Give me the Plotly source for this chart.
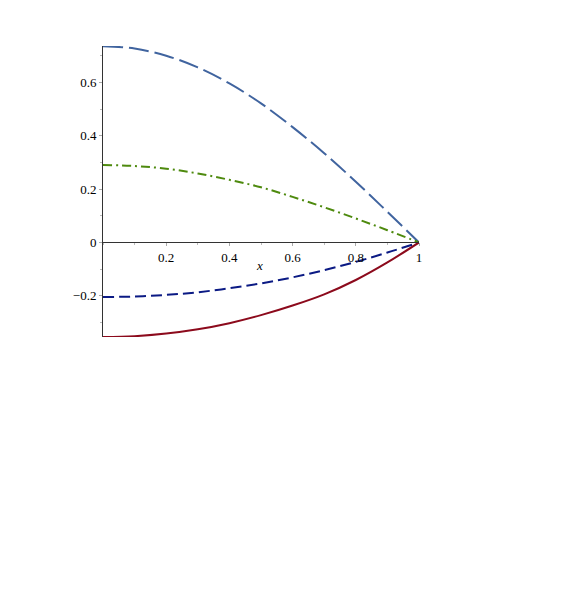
import plotly.graph_objects as go

x_vals = [0.0, 0.1, 0.2, 0.3, 0.4, 0.5, 0.6, 0.7, 0.8, 0.9, 1.0]
blue_long = [0.737, 0.728, 0.701, 0.657, 0.597, 0.522, 0.433, 0.335, 0.228, 0.115, 0.0]
green_dashdot = [0.291, 0.287, 0.277, 0.259, 0.235, 0.207, 0.171, 0.132, 0.090, 0.046, 0.0]
navy_dash = [-0.205, -0.203, -0.197, -0.187, -0.172, -0.154, -0.131, -0.104, -0.073, -0.038, 0.0]
red_solid = [-0.355, -0.352, -0.342, -0.326, -0.303, -0.273, -0.237, -0.195, -0.141, -0.075, 0.0]

x_ticks = [0.2, 0.4, 0.6, 0.8, 1.0]
x_ticktext = ["0.2", "0.4", "0.6", "0.8", "1"]
y_ticks = [-0.2, 0.0, 0.2, 0.4, 0.6]
y_ticktext = ["\u22120.2", "0", "0.2", "0.4", "0.6"]

y_min, y_max = -0.355, 0.7375

fig = go.Figure()
fig.add_trace(go.Scatter(x=x_vals, y=blue_long, mode="lines", line_shape="spline",
                         line=dict(color="#40649F", width=2, dash="20px,6px")))
fig.add_trace(go.Scatter(x=x_vals, y=green_dashdot, mode="lines", line_shape="spline",
                         line=dict(color="#4E8A0E", width=2, dash="9px,4px,2px,4px")))
fig.add_trace(go.Scatter(x=x_vals, y=navy_dash, mode="lines", line_shape="spline",
                         line=dict(color="#0B1A84", width=2, dash="11px,5px")))
fig.add_trace(go.Scatter(x=x_vals, y=red_solid, mode="lines", line_shape="spline",
                         line=dict(color="#8C0A1C", width=2)))

font = dict(family="Liberation Serif", size=13, color="#000000")

fig.update_layout(
    width=572, height=599,
    margin=dict(l=94.5, r=160.5, t=38, b=269.7, pad=0),
    paper_bgcolor="white", plot_bgcolor="white",
    showlegend=False,
    font=font,
    xaxis=dict(range=[0, 1], anchor="free", position=(0 - y_min) / (y_max - y_min),
               showline=True, linecolor="#333333", linewidth=1,
               showgrid=False, zeroline=False,
               tickmode="array", tickvals=x_ticks, ticktext=x_ticktext,
               ticks="outside", ticklen=3, tickcolor="#aaaaaa", tickwidth=1,
               minor=dict(dtick=0.1, ticks="outside", ticklen=2, tickcolor="#bbbbbb"),
               tickfont=font),
    yaxis=dict(range=[y_min, y_max],
               showline=True, linecolor="#333333", linewidth=1,
               showgrid=False, zeroline=False,
               tickmode="array", tickvals=y_ticks, ticktext=y_ticktext,
               ticks="outside", ticklen=3, tickcolor="#aaaaaa", tickwidth=1,
               minor=dict(dtick=0.1, ticks="outside", ticklen=2, tickcolor="#bbbbbb"),
               tickfont=font),
    annotations=[dict(x=0.5, y=0, xref="x", yref="y", text="<i>x</i>", showarrow=False,
                      yshift=-23, xshift=-2, font=dict(family="Liberation Serif", size=13))],
)

fig.write_html("out.html")
